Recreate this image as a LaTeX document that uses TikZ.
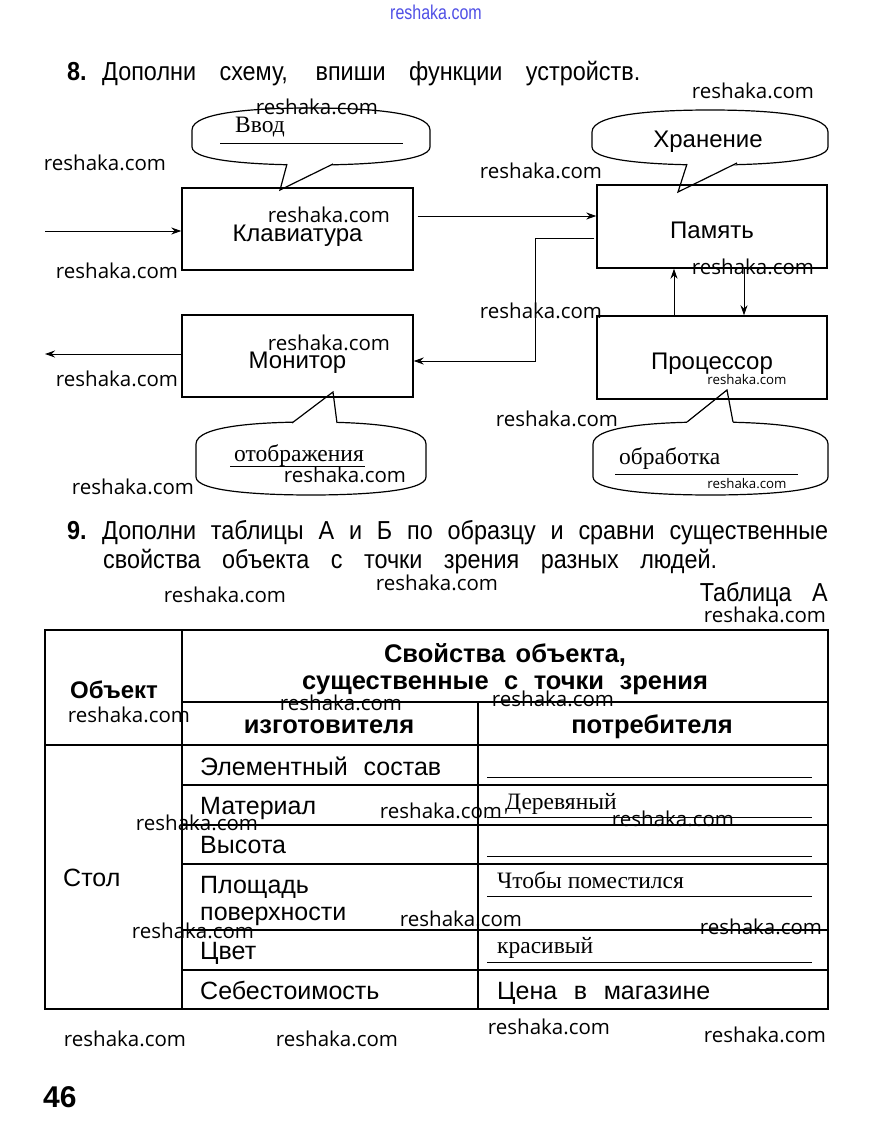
\documentclass[tikz,border=0pt]{standalone}
\usepackage{fontspec}
\setmainfont{Liberation Sans}
\newfontfamily\wmfont{Open Sans}
\newfontfamily\condfont[FakeStretch=0.9]{Liberation Sans}
\newfontfamily\handfont{Liberation Serif}
\newfontfamily\topwmfont[FakeStretch=0.8]{Liberation Sans}
\usetikzlibrary{arrows.meta}
\definecolor{wmblue}{RGB}{80,80,230}
\newcommand{\fsz}[1]{\fontsize{#1}{#1}\selectfont}
% bubble: L T R B
\newcommand{\bubblepath}[4]{(#1,{#2+22}) .. controls (#1,{#2+3}) and ({#1+0.3*(#3-#1)},#2) .. ({(#1+#3)/2},#2) .. controls ({#3-0.3*(#3-#1)},#2) and (#3,{#2+3}) .. (#3,{#2+22}) -- (#3,{#4-18}) .. controls (#3,{#4-3}) and ({#3-0.3*(#3-#1)},#4) .. ({(#1+#3)/2},#4) .. controls ({#1+0.3*(#3-#1)},#4) and (#1,{#4-3}) .. (#1,{#4-18}) -- cycle}
\begin{document}
\begin{tikzpicture}[x=1pt,y=-1pt,
  box/.style={draw, line width=1.4pt, minimum width=231pt, minimum height=82pt, inner sep=0pt, font=\fsz{24}, text height=24pt, text depth=0pt},
  lbl/.style={font=\fsz{24}, anchor=base, inner sep=0pt},
  arr/.style={line width=1pt, -{Stealth[length=10pt,width=7pt]}},
  bub/.style={line width=1.2pt},
  uline/.style={line width=1pt},
  wm/.style={font=\wmfont\fsz{20.5}, inner sep=0pt},
  wms/.style={font=\wmfont\fsz{13.3}, inner sep=0pt},
  tab/.style={line width=1.3pt},
  cell/.style={font=\fsz{25}, anchor=base west, inner sep=0pt},
  bcell/.style={font=\bfseries\fsz{25.5}, anchor=base, inner sep=0pt},
  hand/.style={font=\handfont\fsz{23.5}, anchor=base west, inner sep=0pt},
  head/.style={font=\condfont\fsz{26}, anchor=base west, inner sep=0pt},
  num/.style={font=\condfont\bfseries\fsz{26}, anchor=base west, inner sep=0pt}
]
\useasboundingbox (0,0) rectangle (871,1145);
\fill[white] (0,0) rectangle (871,1145);

% top blue watermark
\node[font=\topwmfont\fsz{20}, text=wmblue, inner sep=0pt] (topwm) at (436,12) {reshaka.com};

% heading 8
\node[num] (n8) at (67,81) {8.};
\node[head] (h8) at (102,81) {\makebox[538pt][s]{Дополни схему, впиши функции устройств.}};

% bubbles
\draw[bub] \bubblepath{192}{108}{430}{165};
\draw[bub] \bubblepath{592}{110}{828}{165};
\draw[bub] \bubblepath{196}{422}{426}{495};
\draw[bub] \bubblepath{593}{422}{828}{495};
% tails
\fill[white] (287,157) -- (287,165) -- (280,190) -- (333,165) -- (333,157) -- cycle;
\draw[bub] (287,164) -- (280,190) -- (333,164);
\fill[white] (687,157) -- (687,165) -- (678,192) -- (737,164) -- (737,157) -- cycle;
\draw[bub] (687,164) -- (678,192) -- (737,163);
\fill[white] (292,431) -- (292,423) -- (333,392) -- (337,423) -- (337,431) -- cycle;
\draw[bub] (292,423) -- (333,392) -- (337,423);
\fill[white] (687,430) -- (687,422) -- (727,390) -- (733,422) -- (733,430) -- cycle;
\draw[bub] (687,422) -- (727,390) -- (733,422);

% bubble texts
\node[hand] (vvod) at (235,132) {Ввод};
\draw[uline] (220,143) -- (403,143);
\node[lbl] (hran) at (708,147) {Хранение};
\node[hand] (otob) at (234,461) {отображения};
\draw[uline] (230,466) -- (365,466);
\node[hand] (obr) at (619,464) {обработка};
\draw[uline] (615,474) -- (798,474);

% boxes
\node[box] (kb) at (297.5,229) {Клавиатура};
\node[box, minimum width=230pt, minimum height=83pt] (mem) at (712,226.5) {Память};
\node[box] (mon) at (297.5,356) {Монитор};
\node[box, minimum width=230pt, minimum height=83pt] (proc) at (712,357.5) {Процессор};

% connectors
\coordinate (inL) at (45,231);
\coordinate (outL) at (45,354);
\draw[arr] (inL) -- (inL -| kb.west);
\draw[arr] ([xshift=4pt]kb.east |- 0,216) -- (mem.west |- 0,216);
\draw[arr] ([xshift=-2pt]mem.west |- 0,238) -- (535,238) -- (535,361) -- (mon.east |- 0,361);
\draw[arr] (mon.west |- outL) -- (outL);
\draw[arr] (proc.north -| 674,0) -- (mem.south -| 674,0);
\draw[arr] (mem.south -| 744,0) -- (proc.north -| 744,0);

% task 9
\node[num] (n9) at (67,539) {9.};
\node[head] (h9a) at (102,539) {\makebox[726pt][s]{Дополни таблицы А и Б по образцу и сравни существенные}};
\node[head] (h9b) at (103,568) {\makebox[614pt][s]{свойства объекта с точки зрения разных людей.}};
\node[head, anchor=base east] (tabA) at (828,601) {\makebox[128pt][s]{Таблица А}};

% table
\draw[tab] (45,630) rectangle (828,1009);
\draw[tab] (182,630) -- (182,1009);
\draw[tab] (478,702) -- (478,1009);
\draw[tab] (182,702) -- (828,702);
\draw[tab] (45,745) -- (828,745);
\foreach \yy in {785,825,864,930,970} \draw[tab] (182,\yy) -- (828,\yy);

\node[bcell] (hdr1) at (505,662) {\makebox[242pt][s]{Свойства объекта,}};
\node[bcell] (hdr2) at (505,689) {\makebox[406pt][s]{существенные с точки зрения}};
\node[bcell, anchor=base west, font=\bfseries\fsz{24}] (obj) at (70,698) {Объект};
\node[bcell] (izg) at (329,733) {изготовителя};
\node[bcell] (potr) at (652,733) {потребителя};

\node[cell] (r1) at (200,775) {\makebox[241pt][s]{Элементный состав}};
\node[cell] (r2) at (200,814) {Материал};
\node[cell] (r3) at (200,853) {Высота};
\node[cell] (r4) at (200,893) {Площадь};
\node[cell] (r4b) at (200,920) {поверхности};
\node[cell] (r5) at (200,959) {Цвет};
\node[cell] (r6) at (200,999) {Себестоимость};
\node[cell] (stol) at (63,886) {Стол};
\node[cell] (cena) at (497,999) {\makebox[213pt][s]{Цена в магазине}};

\foreach \yy in {777,817,856,896,962} \draw[uline] (487,\yy) -- (812,\yy);
\node[hand] (a2) at (505,809) {Деревяный};
\node[hand] (a4) at (497,888) {Чтобы поместился};
\node[hand] (a5) at (497,953) {красивый};

\node[font=\bfseries\fsz{30}, anchor=base west, inner sep=0pt] (page) at (43,1107) {46};

% watermarks
\foreach \wx/\wy [count=\i] in {317/107,753/91,105/163,541/171,329/215,117/271,753/267,541/311,329/343,117/379,557/419,345/475,133/487,437/583,225/595,765/615,341/703,553/699,129/715,441/811,197/823,673/819,461/919,193/931,761/927,549/1027,125/1039,337/1039,765/1035}
  \node[wm] (wm\i) at (\wx,\wy) {reshaka.com};
\node[wms] (wms1) at (747,380) {reshaka.com};
\node[wms] (wms2) at (747,484) {reshaka.com};
\end{tikzpicture}
\end{document}
